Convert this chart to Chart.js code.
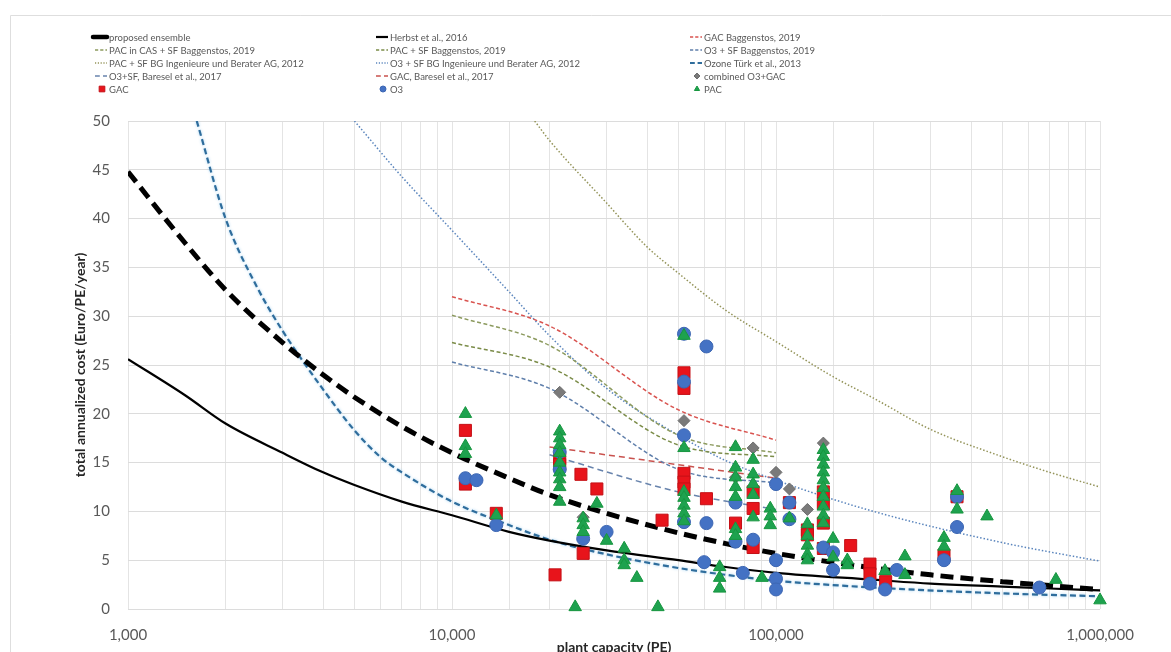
<!DOCTYPE html>
<html><head><meta charset="utf-8">
<script src="https://cdn.jsdelivr.net/npm/chart.js@4.4.1/dist/chart.umd.min.js"></script>
<style>html,body{margin:0;padding:0;background:#fff;overflow:hidden}canvas{display:block}</style>
</head><body>
<canvas id="c" width="1171" height="652"></canvas>
<script>
// ---- curves (plant capacity PE, cost Euro/PE/year) ----
const ensembleX = [1000,1500,2000,3000,4000,5000,7000,10000,15000,20000,30000,50000,70000,100000,200000,300000,500000,700000,1000000];
const ensembleY = [44.8,37.5,32.7,27.3,24.0,21.7,18.7,16.0,13.4,11.7,9.8,7.8,6.7,5.7,4.2,3.5,2.8,2.4,2.0];
const herbstX = [1000,1500,2000,3000,4000,5000,7000,10000,15000,20000,30000,50000,70000,100000,200000,300000,500000,700000,1000000];
const herbstY = [25.6,21.9,19.0,16.0,14.0,12.7,11.0,9.6,7.9,7.0,6.0,5.0,4.3,3.7,3.0,2.6,2.3,2.1,1.9];
const gacBaggX = [10000,20000,50000,100000];
const gacBaggY = [32.0,29.0,20.4,17.3];
const pacCasBaggX = [10000,20000,50000,100000];
const pacCasBaggY = [30.1,27.0,17.8,16.0];
const pacSfBaggX = [10000,20000,50000,100000];
const pacSfBaggY = [27.3,24.8,16.8,15.6];
const o3SfBaggX = [10000,20000,50000,100000];
const o3SfBaggY = [25.3,22.6,14.3,12.9];
const pacBgX = [18000,20000,30000,40000,50000,70000,100000,150000,200000,300000,500000,700000,1000000];
const pacBgY = [50,48,41.6,37.1,34.4,30.6,27.4,23.8,21.6,18.4,15.6,14.0,12.5];
const o3BgX = [5000,7000,10000,15000,20000,30000,50000,70000,100000,200000,500000,1000000];
const o3BgY = [50,44.3,38.8,32.5,28.0,22.6,17.8,15.2,13.2,10.0,6.8,4.9];
const turkX = [1630,2000,2500,3000,4000,5000,6000,7000,10000,15000,20000,30000,50000,70000,100000,200000,500000,1000000];
const turkY = [50,40,33,28.5,22.5,18.3,15.6,14.0,11.0,8.6,7.1,5.6,4.2,3.5,2.9,2.2,1.6,1.3];
const o3BareselX = [20000,50000,100000];
const o3BareselY = [15.8,12.0,10.2];
const gacBareselX = [20000,100000];
const gacBareselY = [16.6,13.4];

// ---- plant data points ----
const gacX = [11000,11000,13700,21500,21500,20800,25000,25400,28000,44500,52000,52000,52000,52000,52000,61000,75000,85000,85000,85000,110000,125000,125000,140000,140000,140000,140000,170000,195000,195000,218000,330000,362000];
const gacY = [18.3,12.8,9.8,15.4,14.8,3.5,13.8,5.7,12.3,9.1,24.2,22.6,13.9,13.0,12.3,11.3,8.8,12.0,10.3,6.3,10.9,8.1,7.6,12.0,10.8,8.8,6.2,6.5,4.6,3.6,2.8,5.5,11.5];
const o3X = [11000,11900,13700,21500,21500,25400,30000,52000,52000,52000,52000,61000,61000,60000,75000,75000,79000,85000,100000,100000,100000,100000,110000,110000,140000,150000,150000,195000,217000,236000,330000,362000,362000,650000];
const o3Y = [13.4,13.2,8.6,16.1,14.3,7.2,7.9,28.2,23.3,17.8,8.9,26.9,8.8,4.8,10.9,6.9,3.7,7.1,12.8,5.0,3.1,2.0,10.9,9.2,6.3,5.8,4.0,2.6,2.0,4.0,5.0,11.5,8.4,2.2];
const combX = [21500,25400,52000,75000,85000,100000,110000,125000,140000];
const combY = [22.2,9.4,19.3,13.5,16.5,14.0,12.3,10.2,17.0];
const pacX = [11000,11000,11000,13700,
  21500,21500,21500,21500,21500,21500,21500,21500,21500,
  24000,25400,25400,25400,28000,30000,34000,34000,34000,37200,43200,
  52000,52000,52000,52000,52000,52000,52000,
  67000,67000,67000,
  75000,75000,75000,75000,75000,75000,75000,
  85000,85000,85000,85000,85000,90500,96000,96000,96000,110000,
  125000,125000,125000,125000,125000,
  140000,140000,140000,140000,140000,140000,140000,140000,140000,140000,
  150000,150000,166000,166000,217000,250000,250000,330000,330000,362000,362000,448000,731000,1000000];
const pacY = [20.0,16.7,15.9,9.6,
  18.2,17.5,16.8,16.0,15.0,14.0,13.3,12.5,11.0,
  0.2,9.3,8.6,7.9,10.8,7.0,6.2,5.0,4.5,3.2,0.2,
  28.0,16.5,12.0,11.4,10.6,9.8,9.0,
  4.3,3.2,2.1,
  16.6,14.5,13.5,12.5,11.5,8.2,7.5,
  15.3,13.8,12.8,11.7,9.4,3.2,10.3,9.5,8.6,9.3,
  8.7,7.5,6.5,5.6,5.0,
  16.3,15.6,14.8,14.0,13.2,12.4,11.5,10.5,9.6,8.8,
  7.2,5.3,5.0,4.5,3.9,5.4,3.5,7.3,6.4,12.1,10.2,9.5,3.0,0.9];

// ---- axis ticks ----
const yTicks = [0,5,10,15,20,25,30,35,40,45,50];
const xMajorTicks = [1000,10000,100000,1000000];

// ---- legend order (row-major, 3 columns) ----
const legendOrder = [
 'proposed ensemble','Herbst et al., 2016','GAC Baggenstos, 2019',
 'PAC in CAS + SF Baggenstos, 2019','PAC + SF Baggenstos, 2019','O3 + SF Baggenstos, 2019',
 'PAC + SF BG Ingenieure und Berater AG, 2012','O3 + SF BG Ingenieure und Berater AG, 2012','Ozone Türk et al., 2013',
 'O3+SF, Baresel et al., 2017','GAC, Baresel et al., 2017','combined O3+GAC',
 'GAC','O3','PAC'];

const pts = (xs, ys) => xs.map((x, i) => ({x: x, y: ys[i]}));

function lineDs(label, xs, ys, color, width, dash, order, extra) {
  return Object.assign({type:'line', label, data: pts(xs, ys), borderColor: color, backgroundColor: color,
    borderWidth: width, borderDash: dash, pointRadius: 0, pointHoverRadius: 0, fill: false,
    tension: 0.35, cubicInterpolationMode: 'monotone', order, showLine: true}, extra || {});
}
function pointDs(label, xs, ys, style, fill, border, radius, order) {
  return {type:'scatter', label, data: pts(xs, ys), pointStyle: style, backgroundColor: fill,
    borderColor: border, borderWidth: 1, pointRadius: radius, pointHoverRadius: radius, order, showLine: false, clip: false};
}

const datasets = [
  pointDs('PAC', pacX, pacY, 'triangle', '#1ea24f', '#17963f', 7.2, 1),
  pointDs('combined O3+GAC', combX, combY, 'rectRot', '#7a7a7a', '#6e6e6e', 6, 2),
  pointDs('O3', o3X, o3Y, 'circle', '#4472c4', '#3d67b3', 6.5, 3),
  pointDs('GAC', gacX, gacY, 'rect', '#e8141b', '#c41016', 8.5, 4),
  lineDs('proposed ensemble', ensembleX, ensembleY, '#000000', 5, [13,7], 10),
  lineDs('Herbst et al., 2016', herbstX, herbstY, '#000000', 2.2, [], 11),
  lineDs('GAC Baggenstos, 2019', gacBaggX, gacBaggY, '#d9534f', 1.5, [4,2.5], 12, {tension:0}),
  lineDs('PAC in CAS + SF Baggenstos, 2019', pacCasBaggX, pacCasBaggY, '#8c9a5e', 1.5, [4,2.5], 13, {tension:0}),
  lineDs('PAC + SF Baggenstos, 2019', pacSfBaggX, pacSfBaggY, '#7b8c48', 1.5, [4,2.5], 14, {tension:0}),
  lineDs('O3 + SF Baggenstos, 2019', o3SfBaggX, o3SfBaggY, '#5f7fab', 1.5, [4,2.5], 15, {tension:0}),
  lineDs('PAC + SF BG Ingenieure und Berater AG, 2012', pacBgX, pacBgY, '#94945a', 1.5, [1.5,2], 16),
  lineDs('O3 + SF BG Ingenieure und Berater AG, 2012', o3BgX, o3BgY, '#5a85bd', 1.5, [1.5,2], 17),
  lineDs('Ozone Türk et al., 2013', turkX, turkY, '#2f6d9c', 2.2, [6,3.5], 18, {glow:'rgba(150,205,240,0.85)'}),
  lineDs('O3+SF, Baresel et al., 2017', o3BareselX, o3BareselY, '#6884ad', 1.5, [6,4], 19, {tension:0}),
  lineDs('GAC, Baresel et al., 2017', gacBareselX, gacBareselY, '#c9524e', 1.5, [6,4], 20, {tension:0})
];

const FONT = 'Lato, "Open Sans", "Liberation Sans", sans-serif';

const framePlugin = {
  id: 'frame',
  beforeDraw(chart) {
    const ctx = chart.ctx;
    ctx.save();
    ctx.fillStyle = '#ffffff';
    ctx.fillRect(0, 0, chart.width, chart.height);
    ctx.strokeStyle = '#dedede';
    ctx.lineWidth = 1;
    ctx.beginPath();
    ctx.moveTo(10.5, 700); ctx.lineTo(10.5, 15.5); ctx.lineTo(1200, 15.5);
    ctx.stroke();
    ctx.restore();
  }
};

const glowPlugin = {
  id: 'glow',
  beforeDatasetDraw(chart, args) {
    const ds = chart.data.datasets[args.index];
    if (ds.glow) { chart.ctx.save(); chart.ctx.shadowColor = ds.glow; chart.ctx.shadowBlur = 3; }
  },
  afterDatasetDraw(chart, args) {
    const ds = chart.data.datasets[args.index];
    if (ds.glow) chart.ctx.restore();
  }
};

const legendPlugin = {
  id: 'gridLegend',
  afterDraw(chart) {
    const ctx = chart.ctx;
    const colX = [109, 390, 704];
    const rowY = [37, 50, 63, 76, 89];
    ctx.save();
    ctx.font = '9.5px ' + FONT;
    ctx.textBaseline = 'middle';
    ctx.fillStyle = '#595959';
    legendOrder.forEach((label, i) => {
      const ds = chart.data.datasets.find(d => d.label === label);
      if (!ds) return;
      const tx = colX[i % 3], ty = rowY[Math.floor(i / 3)];
      if (ds.type === 'line') {
        ctx.save();
        ctx.strokeStyle = ds.borderColor;
        ctx.lineWidth = Math.min(ds.borderWidth, 4.5);
        ctx.setLineDash(ds.label === 'proposed ensemble' ? [] : ds.borderDash.map(v => Math.max(v * 0.8, 1.2)));
        ctx.lineCap = ds.label === 'proposed ensemble' ? 'round' : 'butt';
        ctx.beginPath();
        const x0 = ds.label === 'proposed ensemble' ? tx - 16 : tx - 14;
        ctx.moveTo(x0, ty); ctx.lineTo(tx - 2, ty);
        ctx.stroke();
        ctx.restore();
      } else {
        ctx.save();
        ctx.fillStyle = ds.backgroundColor;
        ctx.strokeStyle = ds.borderColor;
        ctx.lineWidth = 1;
        Chart.helpers.drawPoint(ctx, {pointStyle: ds.pointStyle, radius: ds.pointStyle === 'rect' ? 4 : 3, borderWidth: 1, rotation: 0}, tx - 7, ty);
        ctx.restore();
      }
      ctx.fillStyle = '#595959';
      ctx.fillText(label, tx, ty + 0.5);
    });
    ctx.restore();
  }
};

new Chart(document.getElementById('c'), {
  data: { datasets },
  options: {
    responsive: false,
    animation: false,
    devicePixelRatio: 1,
    layout: { padding: { left: 68, right: 71, top: 121, bottom: 0 } },
    plugins: { legend: { display: false }, tooltip: { enabled: false } },
    font: { family: FONT },
    scales: {
      x: {
        type: 'logarithmic', min: 1000, max: 1000000,
        border: { display: false },
        grid: { color: '#e4e4e4', lineWidth: 1, drawTicks: false },
        ticks: {
          autoSkip: false, maxRotation: 0, padding: 17, color: '#595959',
          font: { size: 15, family: FONT },
          callback: (v) => xMajorTicks.includes(Math.round(v)) ? Math.round(v).toLocaleString('en-US') : ''
        },
        title: { display: true, text: 'plant capacity (PE)', color: '#262626',
          font: { size: 14, weight: 'bold', family: FONT }, padding: { top: 0, bottom: -4 } },
        afterFit: (s) => { s.height = 43; }
      },
      y: {
        min: 0, max: 50,
        border: { display: false },
        grid: { color: '#dcdcdc', lineWidth: 1, drawTicks: false },
        afterBuildTicks: (s) => { s.ticks = yTicks.map(v => ({value: v})); },
        ticks: { padding: 18, color: '#595959', font: { size: 15, family: FONT } },
        title: { display: true, text: 'total annualized cost (Euro/PE/year)', color: '#262626',
          font: { size: 14, weight: 'bold', family: FONT }, padding: { top: 4, bottom: 0 } },
        afterFit: (s) => { s.width = 60; }
      }
    }
  },
  plugins: [framePlugin, glowPlugin, legendPlugin]
});
</script>
</body></html>
